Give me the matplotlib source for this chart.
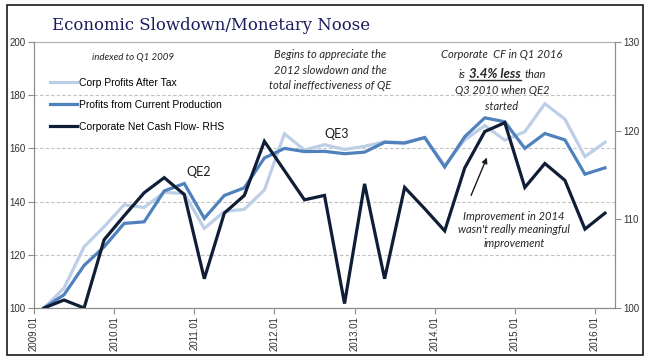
import numpy as np
import matplotlib
matplotlib.use('Agg')
import matplotlib.pyplot as plt
from matplotlib.patches import Rectangle
from matplotlib.lines import Line2D

# quarterly series, 2009Q1 .. 2016Q1, indexed to Q1 2009
profits_after_tax = [100, 107.5, 123, 130.6, 138.8, 137.8, 143.5, 143, 129.9, 136.3,
                     137.1, 144.4, 165.5, 159.4, 161.4, 159.6, 160.8, 162.5, 162.2, 164,
                     153.6, 163.2, 168.6, 163.1, 166.3, 176.8, 171, 156.9, 162.3]
profits_current_prod = [100, 105, 116, 123, 131.8, 132.4, 144, 146.8, 133.7, 142.3,
                        145.2, 156.4, 160, 158.8, 158.9, 158, 158.6, 162.3, 162, 164.1,
                        153, 164.4, 171.5, 170, 160, 165.6, 163.2, 150.3, 152.7]
net_cash_flow = [100, 100.9, 100, 107.7, 110.4, 113.0, 114.7, 112.8, 103.3, 110.7,
                 112.7, 118.8, 115.5, 112.2, 112.7, 100.5, 114.0, 103.3, 113.6, 111.2,
                 108.7, 115.8, 119.9, 120.9, 113.6, 116.3, 114.4, 108.9, 110.7]
year_labels = ['2009.01', '2010.01', '2011.01', '2012.01', '2013.01',
               '2014.01', '2015.01', '2016.01']
series_names = ['Corp Profits After Tax', 'Profits from Current Production',
                'Corporate Net Cash Flow- RHS']

W, H = 663, 360
def fx(px):
    return px / W
def fy(py):
    return 1 - py / H

fig = plt.figure(figsize=(W / 100, H / 100), dpi=100)
ax = fig.add_axes([fx(34), fy(308), fx(615) - fx(34), fy(42) - fy(308)])
ax2 = ax.twinx()

x = np.arange(len(net_cash_flow))
l1, = ax.plot(x, profits_after_tax, color='#bccfe6', lw=2.3, solid_joinstyle='miter')
l2, = ax.plot(x, profits_current_prod, color='#4f81bd', lw=2.3, solid_joinstyle='miter')
l3, = ax2.plot(x, net_cash_flow, color='#0f1e36', lw=2.3, solid_joinstyle='miter')

ax.set_xlim(-0.5, len(x) - 0.5)
ax.set_ylim(100, 200)
ax2.set_ylim(100, 130)
ax.set_yticks(np.arange(100, 201, 20))
ax2.set_yticks(np.arange(100, 131, 10))
ax.set_xticks(np.arange(0, len(x), 4) - 0.5)
ax.set_xticklabels(year_labels, rotation=90)

for lab in ax.get_xticklabels() + ax.get_yticklabels() + ax2.get_yticklabels():
    lab.set_fontfamily('Liberation Sans')
    lab.set_fontsize(7)
    lab.set_color('#303030')

ax.yaxis.grid(True, ls=(0, (3, 2)), color='#c0c0c0', lw=0.8)
for a in (ax, ax2):
    for s in a.spines.values():
        s.set_color('#8c8c8c')
        s.set_linewidth(0.8)
    a.tick_params(colors='#8c8c8c', length=4, width=0.8, pad=2, labelcolor='#303030')
ax.spines['top'].set_color('#b0b0b0')
ax2.spines['top'].set_visible(False)

# legend
ax2.legend([l1, l2, l3], series_names, loc='upper left',
           bbox_to_anchor=(fx(50), fy(78)), bbox_transform=fig.transFigure,
           frameon=False, prop={'family': 'Liberation Sans', 'size': 7.5},
           handlelength=2.6, handletextpad=0.15, labelspacing=1.15,
           borderpad=0, borderaxespad=0)

# title and frame
fig.text(fx(52), fy(25), 'Economic Slowdown/Monetary Noose', family='DejaVu Serif',
         size=11.9, color='#1b1b5e', ha='left', va='center')
fig.patches.append(Rectangle((fx(7), fy(355)), fx(643) - fx(7), fy(5) - fy(355),
                             transform=fig.transFigure, fill=False,
                             ec='#1a1a1a', lw=1.2))

ital = dict(family=['Lato', 'DejaVu Sans'], style='italic', color='#262626',
            ha='center', va='center')
fig.text(fx(133), fy(58), 'indexed to Q1 2009', size=7, **ital)
fig.text(fx(330), fy(70), 'Begins to appreciate the\n2012 slowdown and the\ntotal ineffectiveness of QE',
         size=8, linespacing=1.55, **ital)
fig.text(fx(514), fy(230), "Improvement in 2014\nwasn't really meaningful\nimprovement",
         size=8, linespacing=1.3, **ital)

cx = 502
fig.text(fx(cx), fy(55), 'Corporate  CF in Q1 2016', size=8, **ital)
fig.text(fx(cx), fy(90), 'Q3 2010 when QE2', size=8, **ital)
fig.text(fx(cx), fy(106), 'started', size=8, **ital)

# second line with the bold, underlined figure
r = fig.canvas.get_renderer()
parts = [('is', 8, 'normal'), ('3.4% less', 9.5, 'bold'), ('than', 8, 'normal')]
gap = 3.5
texts = []
for s, sz, wt in parts:
    t = fig.text(0, 0, s, size=sz, weight=wt, family=['Lato', 'DejaVu Sans'],
                 style='italic', color='#262626', ha='left', va='baseline')
    texts.append(t)
widths = [t.get_window_extent(r).width for t in texts]
total = sum(widths) + gap * (len(widths) - 1)
xpos = cx - total / 2
base = 78
lefts = []
for t, w in zip(texts, widths):
    t.set_position((fx(xpos), fy(base)))
    lefts.append(xpos)
    xpos += w + gap
fig.add_artist(Line2D([fx(lefts[1]), fx(lefts[1] + widths[1])], [fy(base + 2), fy(base + 2)],
                      transform=fig.transFigure, color='#262626', lw=1))

lab = dict(family=['Lato', 'DejaVu Sans'], size=9, color='#1a1a1a', ha='center', va='center')
fig.text(fx(199), fy(172), 'QE2', **lab)
fig.text(fx(337), fy(134), 'QE3', **lab)

fig.add_artist(plt.Annotation('', xy=(fx(488), fy(155)), xytext=(fx(470), fy(198)),
                              xycoords='figure fraction', textcoords='figure fraction',
                              arrowprops=dict(arrowstyle='-|>', color='#1a1a1a', lw=1,
                                              mutation_scale=8)))

fig.savefig('out.png', dpi=100)
